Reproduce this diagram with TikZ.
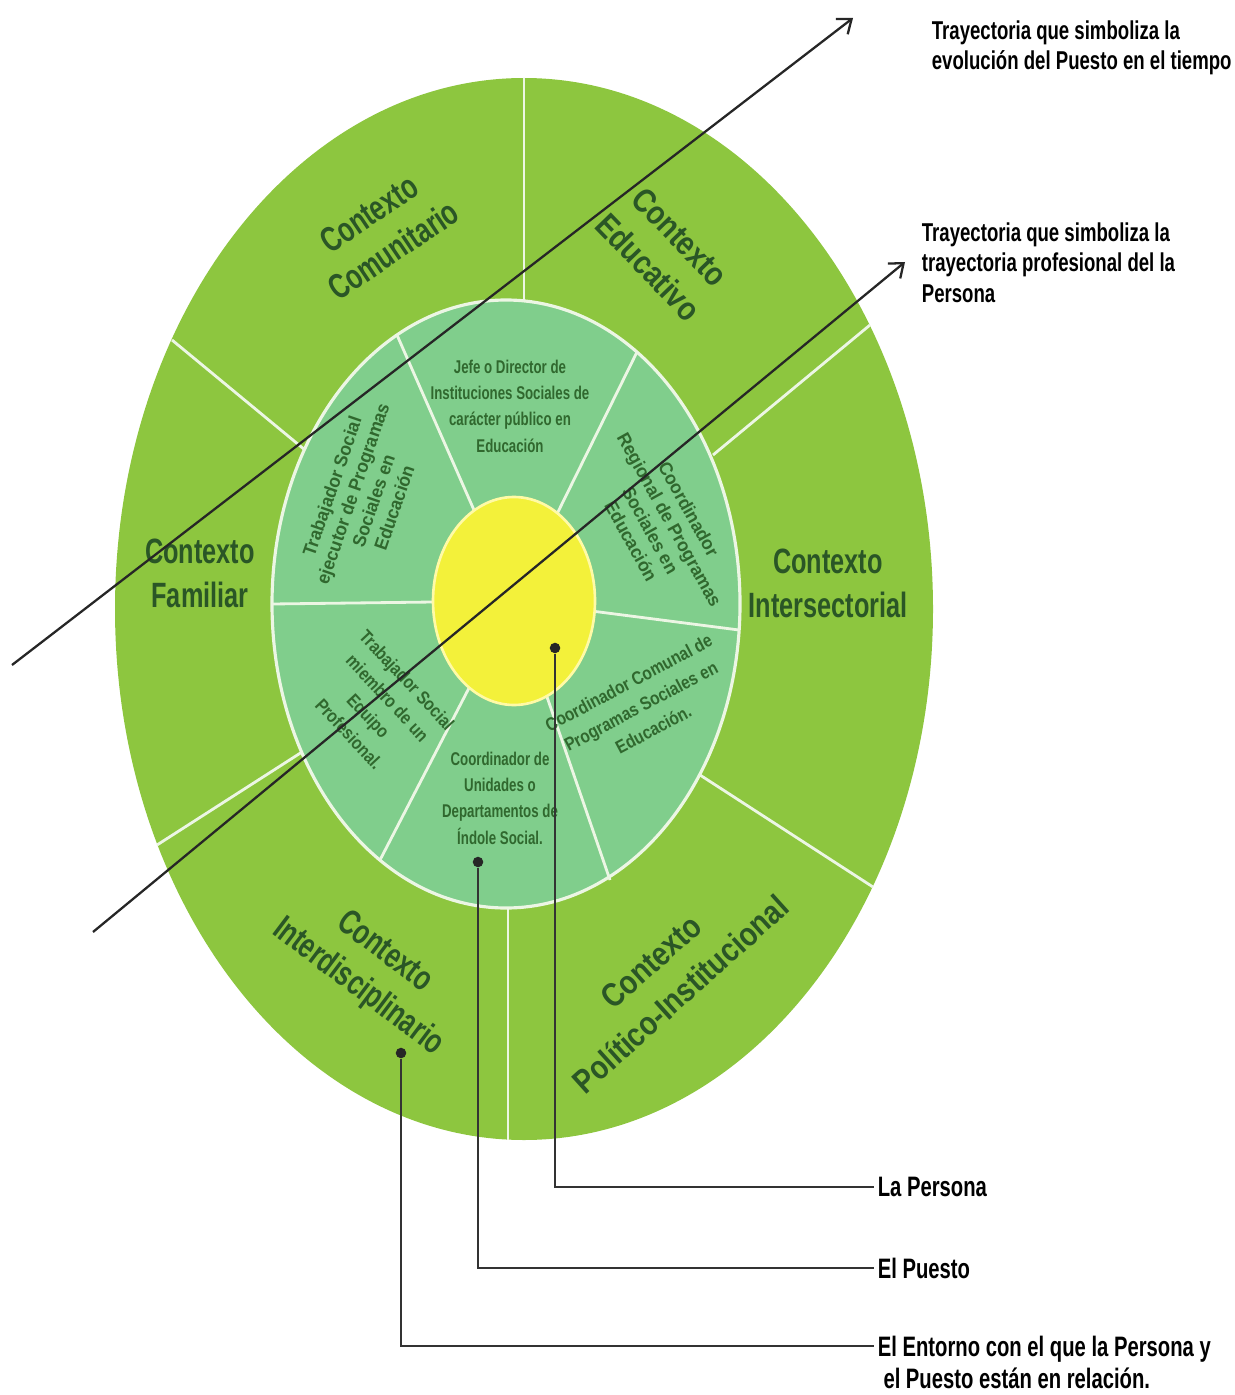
\documentclass[tikz,border=0pt]{standalone}
\usepackage{fontspec}
\setmainfont[FakeStretch=0.72]{Liberation Sans}
\newfontfamily\widefont[FakeStretch=0.95]{Liberation Sans}
\newfontfamily\midfont[FakeStretch=0.84]{Liberation Sans}
\usepackage{tikz}
\usetikzlibrary{arrows.meta,positioning}

\definecolor{outergreen}{RGB}{141,198,63}
\definecolor{innergreen}{RGB}{128,206,140}
\definecolor{coreyellow}{RGB}{243,241,58}
\definecolor{textgreen}{RGB}{42,86,38}
\definecolor{cargogreen}{RGB}{48,104,46}
\definecolor{ringline}{RGB}{236,246,228}

\tikzset{
  ctx/.style={font=\bfseries\fontsize{20}{25}\selectfont, text=textgreen, align=center, inner sep=0pt},
  ctxwide/.style={ctx, font=\midfont\bfseries\fontsize{19}{25}\selectfont},
  cargo/.style={font=\bfseries\fontsize{10.5}{15}\selectfont, text=cargogreen, align=center, inner sep=0pt},
  cargowide/.style={cargo, font=\widefont\bfseries\fontsize{10.5}{12.5}\selectfont},
  cargomid/.style={cargo, font=\midfont\bfseries\fontsize{10.5}{15}\selectfont},
  lbl/.style={font=\bfseries\fontsize{16}{18}\selectfont, align=left, inner xsep=2pt, inner ysep=0pt},
  toplbl/.style={lbl, font=\bfseries\fontsize{14.7}{17.5}\selectfont},
  traj/.style={-{Straight Barb[length=7pt,width=11pt]}, line width=1.3pt, black!85},
  pointer/.style={line width=0.7pt, black!80},
  sep/.style={ringline, line width=1.6pt},
  dot/.style={circle, fill=black!85, inner sep=0pt, minimum size=6pt},
}

\begin{document}
\begin{tikzpicture}[x=0.02cm, y=-0.02cm]
\useasboundingbox (0,0) rectangle (1234,1395);

% outer ring: the contexts
\fill[outergreen] (524,609) ellipse [x radius=409, y radius=531];
\foreach \xa/\ya/\xb/\yb in {524/301/524/78, 713/455/870/325, 700/775/873/887,
                             508/908/508/1140, 302/752/157/845, 305/450/172/340}
    \draw[sep] (\xa,\ya) -- (\xb,\yb);

% middle ring: the posts
\filldraw[fill=innergreen, draw=ringline, line width=1.8pt] (506,604) ellipse [x radius=234, y radius=304];
\foreach \x/\y in {397/335, 637/352, 739/630, 610/880, 380/860, 272/604}
    \draw[sep] (514,601) -- (\x,\y);

% the person
\filldraw[fill=coreyellow, draw=yellow!35!white, line width=1.5pt] (514,601) ellipse [x radius=81, y radius=104];

% context labels
\node[ctx, rotate=34] (comunitario) at (381,232) {Contexto\\Comunitario};
\node[ctxwide, rotate=-46] (educativo) at (664,252) {Contexto\\Educativo};
\node[ctx] (intersectorial) at (828,583) {Contexto\\Intersectorial};
\node[ctx] (familiar) at (200,573) {Contexto\\Familiar};
\node[ctx, rotate=-37] (interdisciplinario) at (371,970) {Contexto\\Interdisciplinario};
\node[ctxwide, rotate=42] (politico) at (666,978) {Contexto\\Político-Institucional};

% post labels
\node[cargo] (jefe) at (510,406) {Jefe o Director de\\Instituciones Sociales de\\carácter público en\\Educación};
\node[cargowide, rotate=-61] (regional) at (660,525) {Coordinador\\Regional de Programas\\Sociales en\\Educación};
\node[cargomid, rotate=28] (comunal) at (641,706) {Coordinador Comunal de\\Programas Sociales en\\Educación.};
\node[cargo] (unidades) at (500,798) {Coordinador de\\Unidades o\\Departamentos de\\Índole Social.};
\node[cargomid, rotate=-47] (miembro) at (378,707) {Trabajador Social\\miembro de un\\Equipo\\Profesional.};
\node[cargowide, rotate=71] (ejecutor) at (363,497) {Trabajador Social\\ejecutor de Programas\\Sociales en\\Educación};

% legend
\node[dot] (pdot) at (555,648) {};
\node[dot] (udot) at (478,862) {};
\node[dot] (edot) at (401,1053) {};
\node[lbl, anchor=west] (lpersona) at (874,1187) {La Persona};
\node[lbl, anchor=west] (lpuesto) at (874,1268) {El Puesto};
\node[lbl, anchor=north west] (lentorno) at (874,1336) {El Entorno con el que la Persona y\\\ el Puesto están en relación.};
\draw[pointer] (pdot) |- (lpersona.west);
\draw[pointer] (udot) |- (lpuesto.west);
\draw[pointer] (edot) |- ([yshift=-5.7pt]lentorno.north west);

% trajectories
\coordinate (ps) at (12,665);
\coordinate (pe) at (853,18);
\coordinate (ts) at (93,932);
\coordinate (te) at (905,262);
\draw[traj] (ps) -- (pe);
\draw[traj] (ts) -- (te);
\node[toplbl, anchor=north west] (lpuestotraj) at (928,20) {Trayectoria que simboliza la\\evolución del Puesto en el tiempo};
\node[toplbl, anchor=north west] (lpersonatraj) at (918,222) {Trayectoria que simboliza la\\trayectoria profesional del la\\Persona};
\end{tikzpicture}
\end{document}
